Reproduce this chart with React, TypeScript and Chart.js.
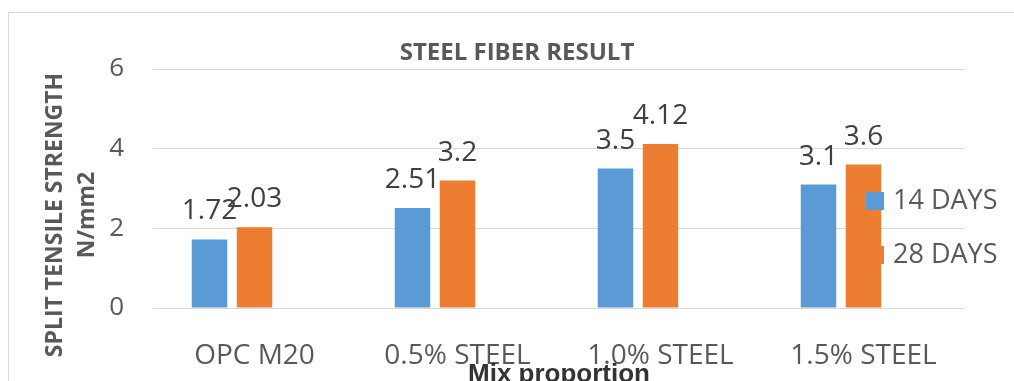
import React, { useEffect, useRef } from "react";
import { Chart, registerables } from "chart.js";

Chart.register(...registerables);

const categories = ["OPC M20", "0.5% STEEL", "1.0% STEEL", "1.5% STEEL"];
const days14 = [1.72, 2.51, 3.5, 3.1];
const days28 = [2.03, 3.2, 4.12, 3.6];
const emptySeries: (number | null)[] = [null, null, null, null];
const seriesLabels = ["14 DAYS", "28 DAYS"];
const seriesColors = ["#5b9bd5", "#ed7d31"];
const yTicks = [0, 2, 4, 6];
const chartTitle = "STEEL FIBER RESULT";
const yTitle = ["SPLIT TENSILE STRENGTH", "N/mm2"];
const xTitle = "Mix proportion";

const FONT = "'Open Sans', 'Noto Sans', sans-serif";

const decor = {
  id: "decor",
  beforeDraw(chart: any) {
    const ctx = chart.ctx;
    ctx.save();
    ctx.strokeStyle = "#d9d9d9";
    ctx.lineWidth = 1;
    ctx.strokeRect(8.5, 12.5, 1200, 500);
    ctx.restore();
  },
  afterDatasetsDraw(chart: any) {
    const ctx = chart.ctx;
    ctx.save();
    // data labels
    ctx.font = `28px ${FONT}`;
    ctx.fillStyle = "#404040";
    ctx.textAlign = "center";
    ctx.textBaseline = "alphabetic";
    [0, 1].forEach((di) => {
      const meta = chart.getDatasetMeta(di);
      const data = chart.data.datasets[di].data;
      meta.data.forEach((bar: any, i: number) => {
        const v = data[i];
        if (v == null) return;
        ctx.fillText(String(v), bar.x, bar.y - 20);
      });
    });
    // legend (overlapping plot area, as in the original)
    const area = chart.chartArea;
    const lx = area.right - 99;
    const rows = [201, 255];
    ctx.font = `27px ${FONT}`;
    ctx.textAlign = "left";
    ctx.textBaseline = "middle";
    seriesLabels.forEach((lab, i) => {
      ctx.fillStyle = seriesColors[i];
      ctx.fillRect(lx, rows[i] - 9, 18, 18);
      ctx.fillStyle = "#595959";
      ctx.fillText(lab, lx + 27, rows[i]);
    });
    ctx.restore();
  },
  afterDraw(chart: any) {
    const ctx = chart.ctx;
    ctx.save();
    // chart title
    ctx.font = `bold 24px ${FONT}`;
    ctx.fillStyle = "#595959";
    ctx.textAlign = "center";
    ctx.textBaseline = "alphabetic";
    ctx.fillText(chartTitle, 517, 60);
    // y axis title (two rotated lines)
    ctx.font = `bold 23px ${FONT}`;
    const baselines = [62, 93.5];
    yTitle.forEach((line, i) => {
      ctx.save();
      ctx.translate(baselines[i], 215);
      ctx.rotate(-Math.PI / 2);
      ctx.fillText(line, 0, 0);
      ctx.restore();
    });
    // x axis title
    ctx.font = "bold 26px 'Liberation Sans', Arial, sans-serif";
    ctx.fillStyle = "#333333";
    ctx.fillText(xTitle, 559, 382);
    ctx.restore();
  },
};

export default function App() {
  const ref = useRef<HTMLCanvasElement | null>(null);

  useEffect(() => {
    if (!ref.current) return;
    const chart = new Chart(ref.current, {
      type: "bar",
      data: {
        labels: categories,
        datasets: [
          {
            label: seriesLabels[0],
            data: days14,
            backgroundColor: seriesColors[0],
            categoryPercentage: 0.665,
            barPercentage: 0.789,
          },
          {
            label: seriesLabels[1],
            data: days28,
            backgroundColor: seriesColors[1],
            categoryPercentage: 0.665,
            barPercentage: 0.789,
          },
          {
            label: "",
            data: emptySeries,
            backgroundColor: "rgba(0,0,0,0)",
            categoryPercentage: 0.665,
            barPercentage: 0.789,
          },
        ],
      },
      options: {
        responsive: false,
        animation: false,
        devicePixelRatio: 1,
        layout: { padding: { top: 69, left: 0, right: 49, bottom: 0 } },
        plugins: {
          legend: { display: false },
          title: { display: false },
          tooltip: { enabled: false },
        },
        scales: {
          x: {
            grid: { display: false },
            border: { display: false },
            ticks: {
              font: { family: FONT, size: 28 },
              color: "#595959",
              padding: 23,
              maxRotation: 0,
              autoSkip: false,
            },
            afterFit(scale: any) {
              scale.height = 73;
            },
          },
          y: {
            min: 0,
            max: 6,
            grid: { color: "#d9d9d9", lineWidth: 1, drawTicks: false },
            border: { display: false },
            ticks: {
              font: { family: FONT, size: 26 },
              color: "#595959",
              padding: 29,
            },
            afterBuildTicks(scale: any) {
              scale.ticks = yTicks.map((v) => ({ value: v }));
            },
            afterFit(scale: any) {
              scale.width = 153;
            },
          },
        },
      },
      plugins: [decor],
    });
    return () => chart.destroy();
  }, []);

  return (
    <div style={{ position: "absolute", left: 0, top: 0, width: 1014, height: 381, background: "#ffffff" }}>
      <canvas ref={ref} width={1014} height={381} style={{ display: "block", width: 1014, height: 381 }} />
    </div>
  );
}
